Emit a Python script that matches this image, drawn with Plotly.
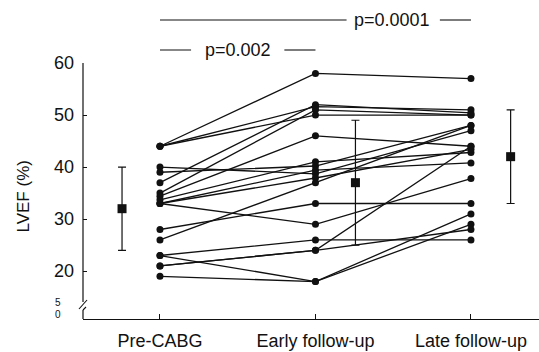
import plotly.graph_objects as go

# ---------------- data ----------------
categories = ["Pre-CABG", "Early follow-up", "Late follow-up"]
cat_x = [1, 2, 3]

# individual patients: LVEF (%) at Pre-CABG, Early, Late
pre_vals   = [44, 44, 44, 37, 35, 34.4, 40, 39, 33.7, 33, 33, 33, 28, 26, 23, 21, 23, 19, 21]
early_vals = [58, 51.6, 50, 52, 51, 46, 38.7, 40.2, 41, 39.4, 37.9, 29, 33, 37, 26, 24, 18, 18, 24]
late_vals  = [57, 51, 50, 50.4, 50, 44, 47, 48, 42.8, 40.8, 43.4, 37.8, 33, 48, 26, 44, 31, 29, 28]

# group means and SD
mean_vals = [32, 37, 42]
sd_vals = [8, 12, 9]
mean_x = [0.756, 2.257, 3.255]

y_ticks = [20, 30, 40, 50, 60]
p_labels = ["p=0.0001", "p=0.002"]

INK = "#111111"
FONT = "Liberation Sans, Arial, sans-serif"

fig = go.Figure()

for a, b, c in zip(pre_vals, early_vals, late_vals):
    fig.add_trace(go.Scatter(
        x=cat_x, y=[a, b, c], mode="lines+markers",
        line=dict(color=INK, width=1.3),
        marker=dict(color=INK, size=7),
        showlegend=False, hoverinfo="skip"))

fig.add_trace(go.Scatter(
    x=mean_x, y=mean_vals, mode="markers",
    marker=dict(color=INK, size=9, symbol="square"),
    error_y=dict(type="data", array=sd_vals, visible=True,
                 color=INK, thickness=1.2, width=4),
    showlegend=False, hoverinfo="skip"))

W, H = 539, 352
ML, MR, MT, MB = 83, 0, 63, 33
pw = W - ML - MR
ph = H - MT - MB
ymin, ymax = 10.8, 60

def px2y(p):
    return ymax - (p - MT) / ph * (ymax - ymin)

def pxx(dx):
    return dx / pw

shapes = []
# y axis upper segment
shapes.append(dict(type="line", xref="paper", yref="y", x0=0, x1=0,
                   y0=ymax, y1=px2y(302), line=dict(color=INK, width=1.2)))
# break slash
shapes.append(dict(type="line", xref="paper", yref="y", x0=pxx(-4), x1=pxx(4),
                   y0=px2y(309), y1=px2y(300), line=dict(color=INK, width=1.1)))
# y axis lower segment with small hook
shapes.append(dict(type="line", xref="paper", yref="y", x0=0, x1=0,
                   y0=px2y(310), y1=ymin, line=dict(color=INK, width=1.2)))
shapes.append(dict(type="line", xref="paper", yref="y", x0=0, x1=pxx(3),
                   y0=px2y(310), y1=px2y(307), line=dict(color=INK, width=1.1)))

# p-value brackets (paper y above plot)
top_y = 1 + (MT - 20) / ph
mid_y = 1 + (MT - 50) / ph
shapes += [
    dict(type="line", xref="x", yref="paper", x0=1, x1=2.20, y0=top_y, y1=top_y,
         line=dict(color=INK, width=1.1)),
    dict(type="line", xref="x", yref="paper", x0=2.80, x1=3, y0=top_y, y1=top_y,
         line=dict(color=INK, width=1.1)),
    dict(type="line", xref="x", yref="paper", x0=1, x1=1.20, y0=mid_y, y1=mid_y,
         line=dict(color=INK, width=1.1)),
    dict(type="line", xref="x", yref="paper", x0=1.80, x1=2, y0=mid_y, y1=mid_y,
         line=dict(color=INK, width=1.1)),
]

annotations = [
    dict(text=p_labels[0], x=2.49, y=top_y, xref="x", yref="paper", showarrow=False,
         font=dict(family=FONT, size=18, color=INK), xanchor="center", yanchor="middle"),
    dict(text=p_labels[1], x=1.50, y=mid_y, xref="x", yref="paper", showarrow=False,
         font=dict(family=FONT, size=18, color=INK), xanchor="center", yanchor="middle"),
    dict(text="LVEF (%)", x=(22.5 - ML) / pw, y=(H - MB - 197) / ph, xref="paper", yref="paper",
         showarrow=False, textangle=-90, font=dict(family=FONT, size=17, color=INK),
         xanchor="center", yanchor="middle"),
    dict(text="5", x=pxx(-20), y=px2y(302), xref="paper", yref="y", showarrow=False,
         font=dict(family=FONT, size=10, color=INK), xanchor="right", yanchor="middle"),
    dict(text="0", x=pxx(-20), y=px2y(314), xref="paper", yref="y", showarrow=False,
         font=dict(family=FONT, size=10, color=INK), xanchor="right", yanchor="middle"),
]

fig.update_layout(
    width=W, height=H,
    margin=dict(l=ML, r=MR, t=MT, b=MB, pad=0, autoexpand=False),
    paper_bgcolor="white", plot_bgcolor="white",
    font=dict(family=FONT, size=18, color=INK),
    shapes=shapes, annotations=annotations,
    xaxis=dict(range=[0.505, 0.505 + pw / 155.5], tickvals=cat_x, ticktext=categories,
               automargin=False,
               showgrid=False, zeroline=False, showline=True, linecolor=INK, linewidth=1.2,
               ticks="inside", ticklen=5, tickcolor=INK, tickwidth=1,
               tickfont=dict(family=FONT, size=18, color=INK), ticklabelstandoff=5),
    yaxis=dict(range=[ymin, ymax], tickvals=y_ticks, ticktext=[str(v) for v in y_ticks],
               automargin=False,
               showgrid=False, zeroline=False, showline=False,
               ticks="inside", ticklen=4, tickcolor=INK, tickwidth=1,
               tickfont=dict(family=FONT, size=18, color=INK), ticklabelstandoff=8),
)

fig.write_html("out.html", config={"displayModeBar": False},
               post_script="document.body.style.margin='0';document.body.style.overflow='hidden';")
